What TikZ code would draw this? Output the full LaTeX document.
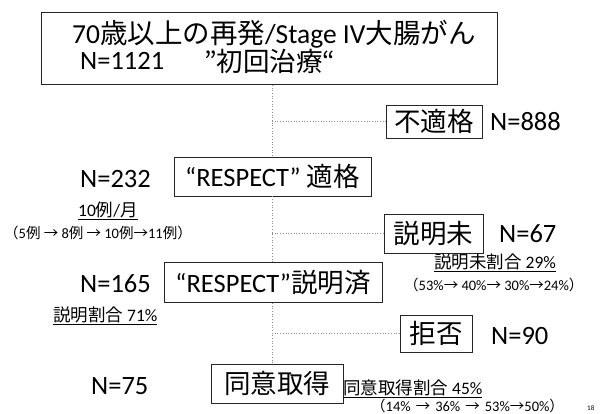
\documentclass[tikz,border=0pt]{standalone}
\usepackage{fontspec}
\setmainfont{Carlito}
\newfontfamily\jp{Noto Sans CJK JP}
\begin{document}
\begin{tikzpicture}[x=1pt,y=-1pt,
  box/.style={draw=black!85, line width=0.8pt, inner sep=0pt, fill=white},
  conn/.style={draw=black!45, dotted, line width=0.7pt},
  big/.style={font=\fontsize{26.5}{28}\selectfont, inner sep=0pt},
  mid/.style={font=\fontsize{17.5}{19}\selectfont, inner sep=0pt},
  small/.style={font=\fontsize{14.5}{16}\selectfont, inner sep=0pt}]
\useasboundingbox[fill=white] (0,0) rectangle (601,414);

% junction coordinates
\coordinate (j1) at (272,121.5);
\coordinate (j2) at (272,233.5);
\coordinate (j3) at (272,333.5);

% boxes
\node[box, minimum width=456pt, minimum height=72pt] (box1) at (269,48.5) {};
\node[box, big, minimum width=96pt, minimum height=33pt] (unfit) at (434,121.5) {\jp 不適格};
\node[box, big, minimum width=197pt, minimum height=39pt] (resp1) at (272.5,176.5) {“RESPECT” {\jp 適格}};
\node[box, big, minimum width=99pt, minimum height=39pt] (unexpl) at (433.5,233.5) {\jp 説明未};
\node[box, big, minimum width=218pt, minimum height=40pt] (expl) at (273,282.5) {“RESPECT”{\jp 説明済}};
\node[box, big, minimum width=72pt, minimum height=37pt] (refuse) at (436,333.5) {\jp 拒否};
\node[box, big, minimum width=132pt, minimum height=39pt] (consent) at (277,383.5) {\jp 同意取得};

% connectors
\draw[conn] (box1.south -| j1) -- (resp1.north -| j1);
\draw[conn] (j1) -- (unfit.west);
\draw[conn] (resp1.south -| j2) -- (expl.north -| j2);
\draw[conn] (j2) -- (unexpl.west);
\draw[conn] (expl.south -| j3) -- (consent.north -| j3);
\draw[conn] (j3) -- (refuse.west);

% title box text
\node[big, font=\fontsize{27.5}{29}\selectfont, anchor=west] (t1) at (72,34) {70{\jp 歳以上の再発}/Stage IV{\jp 大腸がん}};
\node[big, anchor=west] (t2) at (80,61) {N=1121};
\node[big, anchor=west] (t3) at (204,61) {{\jp ”初回治療“}};

% counts
\node[big, anchor=west] (n888) at (490,121.5) {N=888};
\node[big, anchor=west] (n232) at (80,179) {N=232};
\node[big, anchor=west] (n67) at (499,234) {N=67};
\node[big, anchor=west] (n165) at (80,284) {N=165};
\node[big, anchor=west] (n90) at (491,336) {N=90};
\node[big, anchor=west] (n75) at (91,386) {N=75};

% annotations
\node[mid, anchor=west] (a1) at (78,211) {\underline{10{\jp 例}/{\jp 月}}};
\node[small, anchor=west] (a2) at (4,233) {{\jp （}5{\jp 例 → }8{\jp 例 → }10{\jp 例→}11{\jp 例）}};
\node[mid, anchor=west] (a3) at (434,263) {\underline{{\jp 説明未割合} 29\%}};
\node[small, anchor=west] (a4) at (404,285) {{\jp （}53\%{\jp  → }40\%{\jp → }30\%{\jp →}24\%{\jp ）}};
\node[mid, anchor=west] (a5) at (53,316) {\underline{{\jp 説明割合} 71\%}};
\node[mid, anchor=west] (a6) at (343,389) {\underline{{\jp 同意取得割合} 45\%}};
\node[small, anchor=west] (a7) at (371,406) {{\jp （}14\%\hspace{5pt}{\jp →}\hspace{5pt}36\%\hspace{5pt}{\jp →}\hspace{5pt}53\%{\jp →}50\%{\jp ）}};
\node[font=\fontsize{7}{8}\selectfont, inner sep=0pt, anchor=west] (pg) at (587,408) {18};
\end{tikzpicture}
\end{document}
